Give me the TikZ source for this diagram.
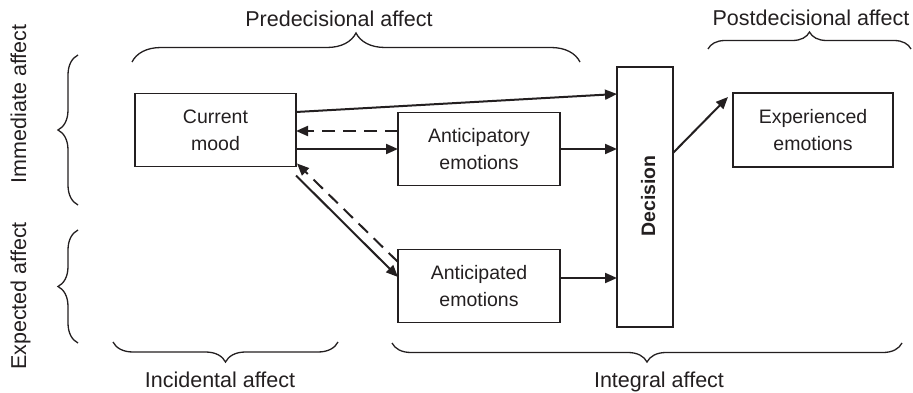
\documentclass[tikz,border=0pt]{standalone}
\usepackage{fontspec}
\setmainfont{Liberation Sans}
\usetikzlibrary{arrows.meta,decorations.pathreplacing}
\definecolor{ink}{HTML}{231F20}
\begin{document}
\begin{tikzpicture}[x=1pt,y=1pt,
  box/.style={draw=ink, line width=1.6pt, inner sep=0pt, outer sep=0pt,
    align=center, text=ink, font=\fontsize{19.5}{27}\selectfont},
  link/.style={draw=ink, line width=2pt, -{Triangle[length=12pt,width=10pt]}},
  back/.style={link, dash pattern=on 13pt off 8pt},
  curly/.style={draw=ink, line width=1.3pt, decorate,
    decoration={brace, amplitude=#1}},
  lbl/.style={text=ink, font=\fontsize{21.5}{24}\selectfont, inner sep=0pt, anchor=base}]
\useasboundingbox (0,0) rectangle (913,-393);

% boxes
\node[box, minimum width=161pt, minimum height=73pt] (mood) at (215.5,-130) {Current\\mood};
\node[box, minimum width=162pt, minimum height=73pt] (antic) at (479,-149) {Anticipatory\\emotions};
\node[box, minimum width=162pt, minimum height=73pt] (expd) at (479,-286) {Anticipated\\emotions};
\node[box, minimum width=56pt, minimum height=260pt] (dec) at (645,-197) {};
\node[text=ink, font=\fontsize{19.5}{24}\selectfont\bfseries, rotate=90, anchor=base, inner sep=0pt]
  (dectext) at (655,-196) {Decision};
\node[box, minimum width=160pt, minimum height=74pt] (exp) at (813,-130) {Experienced\\emotions};

% connector end points that sit off the node centres
\coordinate (expdout) at ([yshift=8pt]expd.east);
\coordinate (exptip) at ([xshift=-5pt,yshift=33pt]exp.west);

% connectors
\draw[link] ([yshift=18pt]mood.east) -- ([yshift=103pt]dec.west);
\draw[back] ([yshift=18pt]antic.west) -- ([yshift=-1pt]mood.east);
\draw[link] ([yshift=-19pt]mood.east) -- (antic.west);
\draw[link] (antic.east) -- (dec.west |- antic.east);
\draw[link] ([yshift=-9pt]mood.south east) -- ([yshift=9pt]expd.west);
\draw[back] ([yshift=24pt]expd.west) -- ([xshift=1pt,yshift=3pt]mood.south east);
\draw[link] (expdout) -- (dec.west |- expdout);
\draw[link] ([yshift=44pt]dec.east) -- (exptip);

% braces
\draw[curly=29pt] (132,-62) -- (580,-62);
\draw[curly=17pt] (708,-49) -- (911,-49);
\draw[curly=20pt] (78,-205) -- (78,-55);
\draw[curly=20pt] (78,-343) -- (78,-230);
\draw[curly=20pt] (338,-342) -- (113,-342);
\draw[curly=19pt] (902,-343) -- (392,-343);

% labels
\node[lbl] (pre) at (339,-27) {Predecisional affect};
\node[lbl] (post) at (811,-26) {Postdecisional affect};
\node[lbl] (inc) at (220,-387) {Incidental affect};
\node[lbl] (integ) at (659,-387) {Integral affect};
\node[lbl, rotate=90] (imm) at (26,-104) {Immediate affect};
\node[lbl, rotate=90] (ex) at (26,-296) {Expected affect};
\end{tikzpicture}
\end{document}
